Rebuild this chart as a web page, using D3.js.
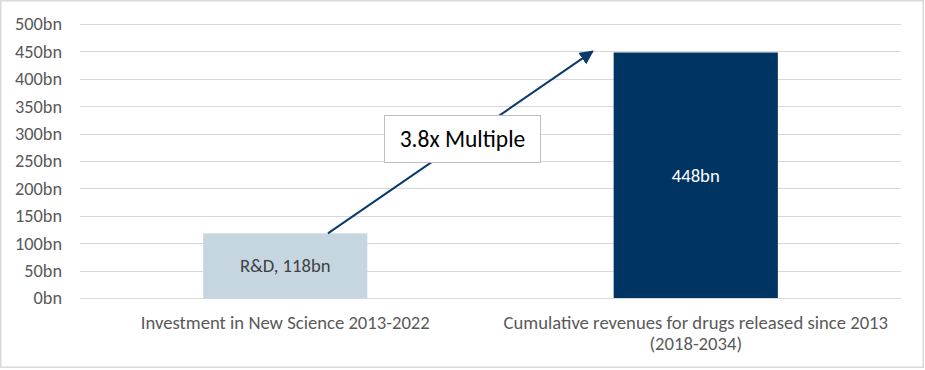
<!DOCTYPE html>
<html><head><meta charset="utf-8">
<script src="https://cdn.jsdelivr.net/npm/d3@7"></script>
<style>
html,body{margin:0;padding:0;background:#fff;}
text{font-family:Carlito,Lato,"Open Sans",sans-serif;}
</style></head>
<body>
<svg id="c" width="925" height="370"></svg>
<script>
const categories = ["Investment in New Science 2013-2022", "Cumulative revenues for drugs released since 2013|(2018-2034)"];
const values = [118, 448];
const barLabels = ["R&D, 118bn", "448bn"];
const yTicks = [0, 50, 100, 150, 200, 250, 300, 350, 400, 450, 500];
const annotation = "3.8x Multiple";

const svg = d3.select("#c");
svg.append("rect").attr("x",0.75).attr("y",0.75).attr("width",922.5).attr("height",366.5)
  .attr("fill","#fff").attr("stroke","#d9d9d9").attr("stroke-width",1.5);

const x = d3.scaleBand().domain(categories).range([80, 901]).paddingInner(0.6).paddingOuter(0.3);
const y = d3.scaleLinear().domain([0, 500]).range([298, 24]);

// gridlines
svg.append("g").selectAll("line").data(yTicks).join("line")
  .attr("x1",80).attr("x2",901).attr("y1",d=>Math.round(y(d))+0.5).attr("y2",d=>Math.round(y(d))+0.5)
  .attr("stroke","#d9d9d9").attr("stroke-width",1);

// y labels
svg.append("g").selectAll("text").data(yTicks).join("text")
  .attr("x",62).attr("y",d=>y(d)).attr("dy","0.35em").attr("text-anchor","end")
  .attr("font-size",18.3).attr("fill","#595959").text(d=>d+"bn");

const colors = ["#c5d6e1", "#003463"];
svg.append("g").selectAll("rect").data(values).join("rect")
  .attr("x",(d,i)=>x(categories[i])).attr("width",x.bandwidth())
  .attr("y",d=>y(d)).attr("height",d=>y(0)-y(d)).attr("fill",(d,i)=>colors[i]);

svg.append("g").selectAll("text").data(values).join("text")
  .attr("x",(d,i)=>x(categories[i])+x.bandwidth()/2)
  .attr("y",d=>(y(d)+y(0))/2)
  .attr("dy","0.35em").attr("text-anchor","middle").attr("font-size",18.67)
  .attr("fill",(d,i)=>i===0?"#404040":"#ffffff").text((d,i)=>barLabels[i]);

// category labels
const cl = svg.append("g");
categories.forEach((c,i)=>{
  const lines = c.split("|");
  const t = cl.append("text").attr("text-anchor","middle").attr("font-size",18.67).attr("fill","#595959");
  lines.forEach((l,j)=>{
    t.append("tspan").attr("x",x(c)+x.bandwidth()/2).attr("y",328.5+j*21.5).text(l);
  });
});

// arrow
const defs = svg.append("defs");
defs.append("marker").attr("id","ah").attr("viewBox","0 0 10 10").attr("refX",9).attr("refY",5)
  .attr("markerWidth",7).attr("markerHeight",7).attr("orient","auto").attr("markerUnits","strokeWidth")
  .append("path").attr("d","M0,0 L10,5 L0,10 z").attr("fill","#0b3a6b");
const x1 = x(categories[0]) + x.bandwidth()*0.76, y1 = y(values[0]);
const x2 = x(categories[1]) - 21, y2 = y(450);
svg.append("line").attr("x1",x1).attr("y1",y1).attr("x2",x2).attr("y2",y2)
  .attr("stroke","#0b3a6b").attr("stroke-width",2).attr("marker-end","url(#ah)");

// annotation box
const bx=384.5, by=115.5, bw=156, bh=47;
svg.append("rect").attr("x",bx).attr("y",by).attr("width",bw).attr("height",bh)
  .attr("fill","#fff").attr("stroke","#bfbfbf").attr("stroke-width",1);
svg.append("text").attr("x",bx+bw/2).attr("y",by+bh/2).attr("dy","0.35em").attr("text-anchor","middle")
  .attr("font-size",23.5).attr("fill","#000").text(annotation);
</script>
</body></html>
